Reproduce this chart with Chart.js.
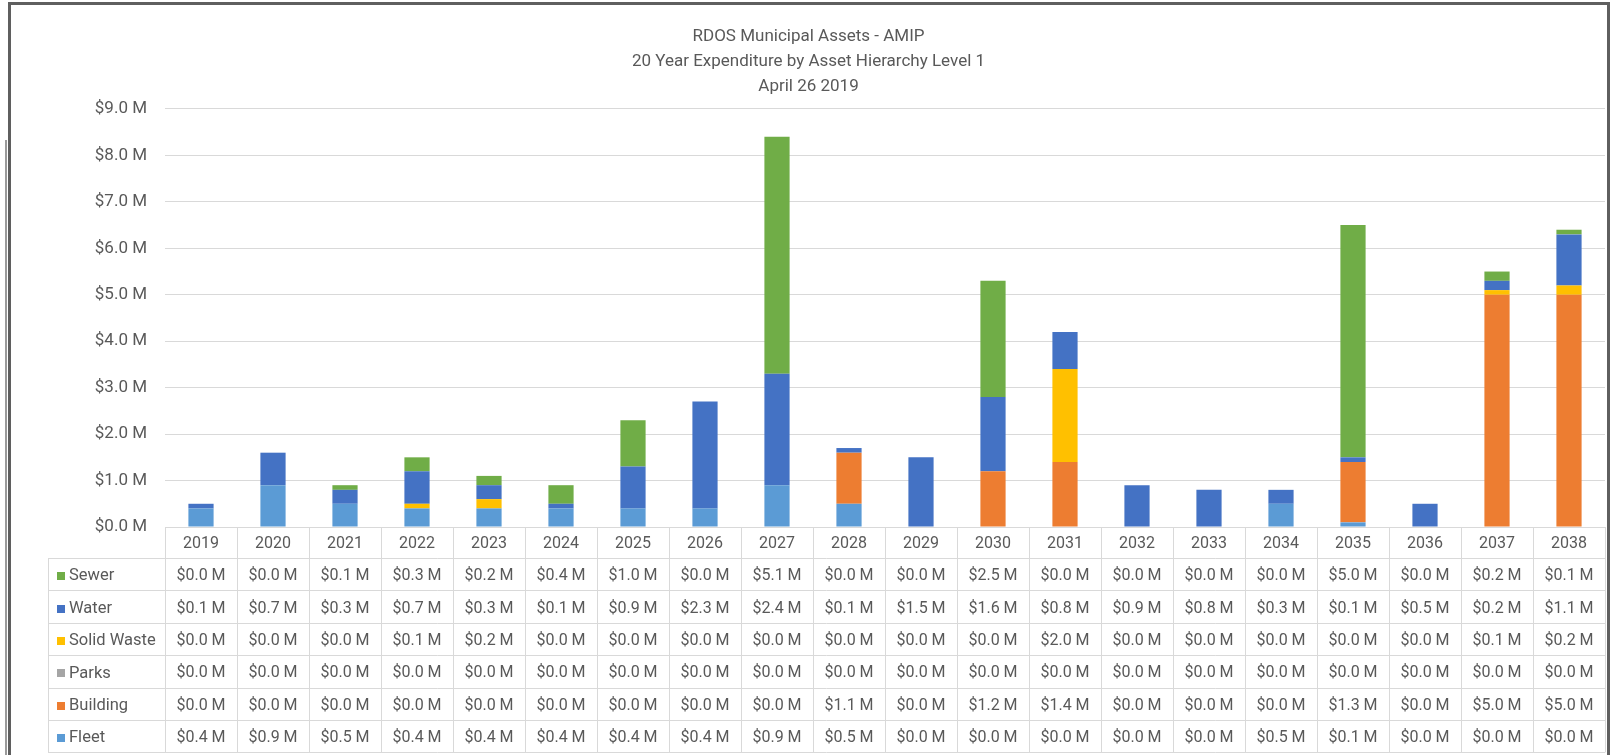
<!DOCTYPE html>
<html>
<head>
<meta charset="utf-8">
<script src="https://cdn.jsdelivr.net/npm/chart.js@4"></script>
<style>
  html, body { margin: 0; padding: 0; background: #ffffff; }
  #wrap { position: relative; width: 1616px; height: 755px; }
  canvas { display: block; }
</style>
</head>
<body>
<div id="wrap"><canvas id="chart" width="1616" height="755"></canvas></div>
<script>
// Annual expenditure, $ millions, by asset hierarchy level 1
const years = ['2019','2020','2021','2022','2023','2024','2025','2026','2027','2028',
               '2029','2030','2031','2032','2033','2034','2035','2036','2037','2038'];
const sewer      = [0.0,0.0,0.1,0.3,0.2,0.4,1.0,0.0,5.1,0.0,0.0,2.5,0.0,0.0,0.0,0.0,5.0,0.0,0.2,0.1];
const water      = [0.1,0.7,0.3,0.7,0.3,0.1,0.9,2.3,2.4,0.1,1.5,1.6,0.8,0.9,0.8,0.3,0.1,0.5,0.2,1.1];
const solidWaste = [0.0,0.0,0.0,0.1,0.2,0.0,0.0,0.0,0.0,0.0,0.0,0.0,2.0,0.0,0.0,0.0,0.0,0.0,0.1,0.2];
const parks      = [0.0,0.0,0.0,0.0,0.0,0.0,0.0,0.0,0.0,0.0,0.0,0.0,0.0,0.0,0.0,0.0,0.0,0.0,0.0,0.0];
const building   = [0.0,0.0,0.0,0.0,0.0,0.0,0.0,0.0,0.0,1.1,0.0,1.2,1.4,0.0,0.0,0.0,1.3,0.0,5.0,5.0];
const fleet      = [0.4,0.9,0.5,0.4,0.4,0.4,0.4,0.4,0.9,0.5,0.0,0.0,0.0,0.0,0.0,0.5,0.1,0.0,0.0,0.0];
const yTickValues = [0,1,2,3,4,5,6,7,8,9];
const titleLines = ['RDOS Municipal Assets - AMIP',
                    '20 Year Expenditure by Asset Hierarchy Level 1',
                    'April 26 2019'];

const FONT = "'Roboto', 'Liberation Sans', sans-serif";
const TEXT = '#595959';
const RULE = '#d9d9d9';
const money = v => '$' + Number(v).toFixed(1) + ' M';

// bottom of the stack first
const series = [
  { label: 'Fleet',       data: fleet,      color: '#5B9BD5' },
  { label: 'Building',    data: building,   color: '#ED7D31' },
  { label: 'Parks',       data: parks,      color: '#A5A5A5' },
  { label: 'Solid Waste', data: solidWaste, color: '#FFC000' },
  { label: 'Water',       data: water,      color: '#4472C4' },
  { label: 'Sewer',       data: sewer,      color: '#70AD47' }
];

// white page with the dark sheet frame
const framePlugin = {
  id: 'sheetFrame',
  beforeDraw(chart) {
    const { ctx, width, height } = chart;
    ctx.save();
    ctx.fillStyle = '#ffffff';
    ctx.fillRect(0, 0, width, height);
    ctx.restore();
  },
  afterDraw(chart) {
    const { ctx, height } = chart;
    ctx.save();
    ctx.fillStyle = '#5f5f5f';
    ctx.fillRect(8, 2, 1602, 3);      // top
    ctx.fillRect(8, 2, 3, height - 2); // left
    ctx.fillRect(1607, 2, 3, height - 2); // right
    ctx.fillStyle = '#9a9a9a';
    ctx.fillRect(5, 140, 2, height - 140);
    ctx.restore();
  }
};

// data table under the x axis: year header, legend keys and values
const dataTablePlugin = {
  id: 'dataTable',
  afterDraw(chart) {
    const { ctx, chartArea, scales } = chart;
    const x = scales.x;
    const left = chartArea.left, right = chartArea.right;
    const top = chartArea.bottom;
    const colW = (right - left) / years.length;
    const headerH = 31;
    const rowH = 32.4;
    const legendLeft = 48;
    const rows = chart.data.datasets.slice().reverse();
    const tableBottom = top + headerH + rowH * rows.length;

    ctx.save();
    ctx.strokeStyle = RULE;
    ctx.lineWidth = 1;
    ctx.beginPath();
    ctx.moveTo(left, Math.round(top) + 0.5);
    ctx.lineTo(right, Math.round(top) + 0.5);
    for (let r = 0; r <= rows.length; r++) {
      const yy = Math.round(top + headerH + r * rowH) + 0.5;
      ctx.moveTo(legendLeft, yy);
      ctx.lineTo(right, yy);
    }
    for (let c = 0; c <= years.length; c++) {
      const xx = Math.round(left + c * colW) + 0.5;
      ctx.moveTo(xx, top);
      ctx.lineTo(xx, tableBottom);
    }
    ctx.moveTo(legendLeft + 0.5, top + headerH);
    ctx.lineTo(legendLeft + 0.5, tableBottom);
    ctx.stroke();

    ctx.fillStyle = TEXT;
    ctx.font = '16px ' + FONT;
    ctx.textAlign = 'center';
    ctx.textBaseline = 'middle';
    years.forEach((yr, i) => {
      ctx.fillText(yr, x.getPixelForValue(i), top + headerH / 2 + 1);
    });

    rows.forEach((ds, r) => {
      const cy = top + headerH + r * rowH + rowH / 2 + 2;
      ctx.fillStyle = ds.backgroundColor;
      ctx.fillRect(57, Math.round(cy - 4), 8, 8);
      ctx.fillStyle = TEXT;
      ctx.font = '16.5px ' + FONT;
      ctx.textAlign = 'left';
      ctx.fillText(ds.label, 69, cy);
      ctx.font = '16px ' + FONT;
      ctx.textAlign = 'center';
      ds.data.forEach((v, i) => {
        ctx.fillText(money(v), x.getPixelForValue(i), cy);
      });
    });
    ctx.restore();
  }
};

new Chart(document.getElementById('chart'), {
  type: 'bar',
  data: {
    labels: years,
    datasets: series.map(s => ({
      label: s.label,
      data: s.data,
      backgroundColor: s.color,
      borderWidth: 0,
      categoryPercentage: 1.0,
      barPercentage: 0.35
    }))
  },
  options: {
    responsive: false,
    animation: false,
    devicePixelRatio: 1,
    layout: { padding: { left: 12, right: 11, top: 0, bottom: 228 } },
    plugins: {
      legend: { display: false },
      tooltip: { enabled: false },
      title: {
        display: true,
        text: titleLines,
        color: TEXT,
        font: { family: FONT, size: 17, weight: 'normal', lineHeight: 1.47 },
        padding: { top: 24, bottom: 10 }
      }
    },
    scales: {
      x: {
        stacked: true,
        display: false
      },
      y: {
        stacked: true,
        min: 0,
        max: 9,
        afterBuildTicks: axis => { axis.ticks = yTickValues.map(v => ({ value: v })); },
        afterFit: axis => { axis.width = 153; },
        border: { display: false },
        grid: { color: RULE, lineWidth: 1, drawTicks: false },
        ticks: {
          padding: 18,
          color: TEXT,
          font: { family: FONT, size: 17 },
          callback: v => money(v)
        }
      }
    }
  },
  plugins: [framePlugin, dataTablePlugin]
});
</script>
</body>
</html>
